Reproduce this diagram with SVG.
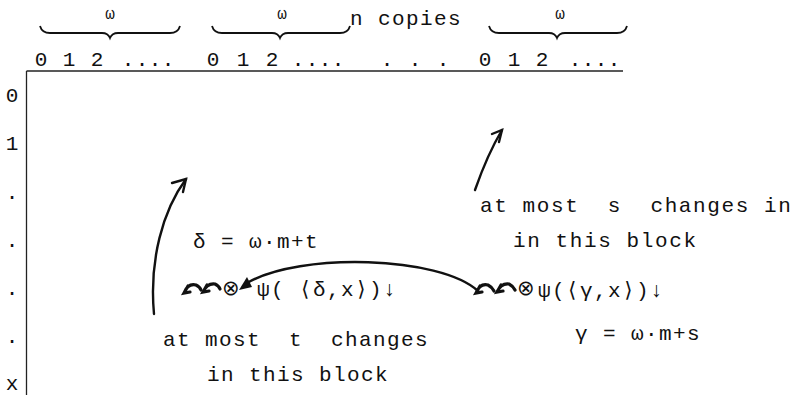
<svg xmlns="http://www.w3.org/2000/svg" width="801" height="395" viewBox="0 0 801 395">
<style>
text{font-family:"Liberation Mono","DejaVu Sans Mono",monospace;fill:#111;font-size:21px}
.m{text-anchor:middle}
.w{font-size:16px;text-anchor:middle}
.b{letter-spacing:1.4px}
.r{letter-spacing:1.6px}
.ln{stroke:#222;stroke-width:1.3;fill:none}
.br{stroke:#111;stroke-width:1.8;fill:none}
.ar{stroke:#111;stroke-width:2.4;fill:none;stroke-linecap:round}
.sq{stroke:#111;stroke-width:3.2;fill:none;stroke-linecap:round}
.sym{font-family:"DejaVu Sans","Liberation Mono",sans-serif}
</style>
<g id="header">
<text class="w" x="110" y="19">ω</text>
<text class="w" x="282" y="19">ω</text>
<text class="b" x="350" y="25">n copies</text>
<text class="w" x="560" y="19">ω</text>
<path class="br" d="M40,26 Q42,33 50,33 L102,33 Q108,33 110,38 Q112,33 118,33 L170,33 Q178,33 180,26"/>
<path class="br" d="M212,26 Q214,33 222,33 L272,33 Q278,33 280,38 Q282,33 288,33 L340,33 Q348,33 350,26"/>
<path class="br" d="M489,26 Q491,33 499,33 L549,33 Q555,33 557,38 Q559,33 565,33 L617,33 Q625,33 627,26"/>
<text class="m" x="41 69 97 128 142 155 168" y="66">012....</text>
<text class="m" x="213 243 272 298 312 325 338" y="66">012....</text>
<text class="m" x="387 415 443" y="66">...</text>
<text class="m" x="485 514 542 575 588 601 614" y="66">012....</text>
</g>
<g id="axes">
<line class="ln" x1="26.5" y1="71" x2="623" y2="71"/>
<line class="ln" x1="26.5" y1="71" x2="26.5" y2="395"/>
<text class="m" x="12" y="102">0</text>
<text class="m" x="12" y="150">1</text>
<text class="m" x="12" y="199">.</text>
<text class="m" x="12" y="247">.</text>
<text class="m" x="12" y="295">.</text>
<text class="m" x="12" y="343">.</text>
<text class="m" x="12" y="390">x</text>
</g>
<g id="block-s">
<text class="r" x="480" y="212" xml:space="preserve">at most  s  changes in</text>
<text class="r" x="513" y="247">in this block</text>
</g>
<g id="block-t">
<text class="b" x="163" y="346" xml:space="preserve">at most  t  changes</text>
<text class="b" x="207" y="381">in this block</text>
</g>
<g id="delta">
<text class="b" x="193" y="248">δ = ω·m+t</text>
</g>
<g id="gamma">
<text class="b" x="575" y="340">γ = ω·m+s</text>
</g>
<g id="psi-delta">
<path class="sq" d="M184,293 Q188,283 196,285 Q200,287 201,290 M188,286 L184,293 L190,292"/>
<path class="sq" d="M203,292 Q207,283 215,284 Q219,286 220,289 M207,285 L203,292 L209,291"/>
<text class="sym" x="222" y="295" font-size="16">⊗</text>
<text class="b" x="257" y="296" xml:space="preserve">ψ( ⟨δ,x⟩)↓</text>
</g>
<g id="psi-gamma">
<path class="sq" d="M476,293 Q480,283 488,285 Q492,287 494,291 M480,286 L476,293 L482,292"/>
<path class="sq" d="M497,292 Q501,283 509,284 Q513,286 515,290 M501,285 L497,292 L503,291"/>
<text class="sym" x="517" y="295" font-size="14">⊗</text>
<text class="b" x="538" y="297">ψ(⟨γ,x⟩)↓</text>
</g>
<g id="connectors">
<path class="ar" d="M154,314 C149,260 163,210 186,179"/>
<path class="ar" d="M172,183 L186,179 L183,192"/>
<path class="ar" d="M475,190 C482,170 490,150 502,130"/>
<path class="ar" d="M492,134 L502,130 L499,142"/>
<path class="ar" d="M478,291 C440,256 300,252 247,283"/>
<path fill="#111" d="M239,290 L247,277 L252,287 Z"/>
</g>
</svg>
